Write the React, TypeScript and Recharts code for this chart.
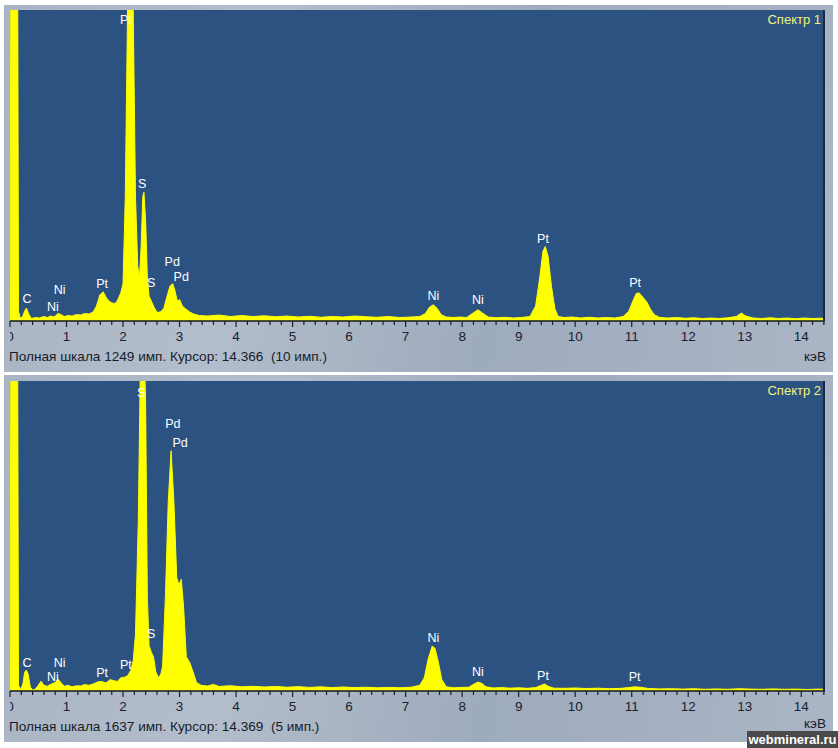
import React from "react";
import { AreaChart, Area, XAxis, YAxis, CartesianGrid, ReferenceDot } from "recharts";

// ---------- Spectrum 1 (full scale 1249 counts) ----------
const energy1 = [
  0.0, 0.02, 0.13, 0.15, 0.18, 0.22, 0.26, 0.29, 0.33, 0.38, 0.45, 0.52, 0.6, 0.66, 0.72, 0.78, 0.85, 0.9, 0.96,
  1.02, 1.1, 1.18, 1.25, 1.32, 1.4, 1.47, 1.53, 1.59, 1.65, 1.7, 1.75, 1.8, 1.85, 1.89, 1.96, 2.0, 2.04, 2.08,
  2.13, 2.18, 2.22, 2.26, 2.29, 2.32, 2.35, 2.37, 2.4, 2.43, 2.46, 2.5, 2.55, 2.6, 2.66, 2.72, 2.78, 2.83, 2.88,
  2.92, 2.96, 3.0, 3.05, 3.1, 3.18, 3.25, 3.35, 3.5, 3.7, 3.9, 4.1, 4.3, 4.5, 4.7, 4.9, 5.1, 5.3, 5.5, 5.7, 5.9,
  6.1, 6.3, 6.5, 6.7, 6.9, 7.1, 7.25, 7.35, 7.42, 7.49, 7.56, 7.63, 7.72, 7.85, 7.95, 8.08, 8.18, 8.28, 8.36,
  8.46, 8.6, 8.75, 8.9, 9.05, 9.2, 9.3, 9.37, 9.43, 9.47, 9.52, 9.58, 9.64, 9.7, 9.8, 9.95, 10.1, 10.25, 10.4,
  10.55, 10.7, 10.85, 10.95, 11.02, 11.08, 11.13, 11.2, 11.27, 11.33, 11.4, 11.5, 11.65, 11.8, 11.95, 12.1,
  12.25, 12.4, 12.55, 12.7, 12.85, 12.94, 13.02, 13.15, 13.3, 13.45, 13.6, 13.75, 13.9, 14.05, 14.2, 14.35, 14.42,
];
const counts1 = [
  0, 2000, 2000, 40, 12, 16, 40, 52, 28, 10, 14, 12, 18, 14, 20, 16, 30, 26, 18,
  22, 20, 26, 24, 30, 28, 36, 60, 105, 117, 95, 80, 73, 70, 77, 113, 150, 500, 1250,
  2000, 1250, 500, 220, 170, 300, 500, 517, 400, 180, 100, 80, 55, 35, 36, 50, 100, 140, 150,
  120, 80, 86, 60, 50, 36, 28, 22, 20, 24, 18, 22, 18, 21, 17, 20, 16, 19, 15, 18, 16,
  20, 17, 15, 18, 14, 16, 18, 30, 55, 65, 50, 25, 16, 14, 16, 14, 30, 45, 32,
  16, 13, 15, 12, 14, 18, 60, 170, 280, 299, 260, 140, 50, 18, 14, 16, 12, 15, 12,
  14, 12, 18, 40, 80, 110, 113, 95, 75, 48, 25, 14, 12, 14, 11, 13,
  10, 12, 10, 13, 18, 32, 20, 12, 10, 13, 10, 12, 9, 12, 10, 11, 10,
];
const labelText1 = ["Pt", "S", "S", "Pd", "Pd", "Pt", "Ni", "Ni", "C", "Ni", "Ni", "Pt", "Pt"];
const labelEnergy1 = [2.05, 2.34, 2.5, 2.87, 3.03, 1.63, 0.88, 0.76, 0.3, 7.49, 8.28, 9.43, 11.06];
const labelCount1 = [1209, 550, 154, 239, 178, 150, 125, 57, 89, 101, 85, 331, 154];

// ---------- Spectrum 2 (full scale 1637 counts) ----------
const energy2 = [
  0.0, 0.02, 0.13, 0.15, 0.19, 0.23, 0.26, 0.29, 0.32, 0.36, 0.4, 0.45, 0.5, 0.55, 0.6, 0.66, 0.72, 0.8, 0.85,
  0.9, 0.96, 1.02, 1.1, 1.18, 1.25, 1.32, 1.4, 1.48, 1.55, 1.62, 1.7, 1.77, 1.83, 1.9, 1.96, 2.02, 2.08, 2.14,
  2.18, 2.22, 2.27, 2.31, 2.35, 2.4, 2.43, 2.46, 2.5, 2.54, 2.58, 2.63, 2.67, 2.7, 2.75, 2.8, 2.85, 2.9, 2.95,
  2.99, 3.03, 3.07, 3.12, 3.18, 3.24, 3.3, 3.38, 3.5, 3.6, 3.7, 3.9, 4.1, 4.3, 4.5, 4.7, 4.9, 5.1, 5.3, 5.5,
  5.7, 5.9, 6.1, 6.3, 6.5, 6.7, 6.9, 7.1, 7.25, 7.33, 7.4, 7.47, 7.52, 7.58, 7.64, 7.72, 7.85, 8.0, 8.12, 8.2,
  8.28, 8.35, 8.42, 8.55, 8.7, 8.85, 9.0, 9.15, 9.3, 9.4, 9.46, 9.52, 9.62, 9.8, 10.0, 10.2, 10.4, 10.6, 10.8,
  10.95, 11.05, 11.15, 11.3, 11.5, 11.7, 11.9, 12.1, 12.3, 12.5, 12.7, 12.9, 13.1, 13.3, 13.5, 13.7, 13.9,
  14.1, 14.3, 14.42,
];
const counts2 = [
  0, 2500, 2500, 30, 8, 40, 100, 110, 90, 20, 5, 10, 30, 52, 30, 25, 35, 45, 63,
  45, 25, 30, 22, 28, 26, 34, 30, 38, 48, 50, 42, 60, 55, 50, 70, 72, 80, 110,
  160, 300, 900, 1800, 2200, 1500, 500, 240, 205, 180, 100, 70, 90, 130, 500, 1000, 1268, 1000, 600,
  560, 590, 450, 180, 150, 100, 45, 30, 26, 35, 24, 28, 22, 25, 21, 24, 20, 23, 19, 22,
  18, 21, 18, 20, 17, 19, 17, 20, 30, 70, 170, 237, 225, 150, 60, 22, 17, 19, 20, 35,
  47, 40, 22, 16, 18, 15, 17, 14, 18, 30, 37, 25, 15, 14, 16, 13, 15, 12, 14,
  18, 22, 20, 13, 11, 12, 10, 12, 9, 11, 9, 12, 10, 9, 11, 9, 10,
  8, 10, 9,
];
const labelText2 = ["S", "Pd", "Pd", "S", "C", "Ni", "Ni", "Pt", "Pt", "Ni", "Ni", "Pt", "Pt"];
const labelEnergy2 = [2.32, 2.88, 3.01, 2.5, 0.3, 0.88, 0.76, 1.63, 2.05, 7.49, 8.28, 9.43, 11.05];
const labelCount2 = [1578, 1410, 1310, 305, 152, 152, 74, 100, 137, 284, 105, 84, 74];

// ---------- Axis ticks (keV) ----------
const majorTicks = [0, 1, 2, 3, 4, 5, 6, 7, 8, 9, 10, 11, 12, 13, 14];
const minorSteps = [0.2, 0.4, 0.6, 0.8];

const spectra = [
  { name: "Спектр 1", fullScale: 1249, energy: energy1, counts: counts1, lt: labelText1, le: labelEnergy1, lc: labelCount1, footer: "Полная шкала 1249 имп. Курсор: 14.366  (10 имп.)" },
  { name: "Спектр 2", fullScale: 1637, energy: energy2, counts: counts2, lt: labelText2, le: labelEnergy2, lc: labelCount2, footer: "Полная шкала 1637 имп. Курсор: 14.369  (5 имп.)" },
];

const X_MAX = 14.42;
const FONT = "'Liberation Sans', Arial, sans-serif";
const allTicks: number[] = [];
majorTicks.forEach((m) => {
  allTicks.push(m);
  minorSteps.forEach((s) => {
    if (m + s <= X_MAX) allTicks.push(Math.round((m + s) * 10) / 10);
  });
});

const Tick = (props: any) => {
  const { x, y, payload, clipId } = props;
  const v = payload.value as number;
  const major = Math.abs(v - Math.round(v)) < 1e-6;
  return (
    <g>
      <line x1={x} y1={y} x2={x} y2={y + (major ? 6 : 4)} stroke="#1b1f2b" strokeWidth={1.2} />
      {major && (
        <text x={x} y={y + 20} textAnchor="middle" fontSize={13.5} fill="#1b2030" fontFamily={FONT}
          clipPath={v === 0 ? `url(#${clipId})` : undefined}>
          {String(v)}
        </text>
      )}
    </g>
  );
};

const Panel = ({ s, top, idx }: { s: any; top: number; idx: number }) => {
  const data = s.energy.map((e: number, i: number) => ({ e, c: s.counts[i] }));
  const clipId = `zeroClip${idx}`;
  const marginTop = idx === 0 ? 10 : 11;
  return (
    <div style={{ position: "absolute", left: 0, top, width: 838, height: 372 }}>
      <div style={{ position: "absolute", left: 4, top: 5, width: 829, height: 367,
        background: "linear-gradient(100deg, #a9b4c4 0%, #b3bdcb 30%, #9eabbd 60%, #aab5c5 100%)" }} />
      <div style={{ position: "absolute", left: 0, top: 0 }}>
        <AreaChart width={838} height={350} data={data} margin={{ top: marginTop, left: 10, right: 13, bottom: 0 }}>
          <defs>
            <clipPath id={clipId}>
              <rect x={10} y={0} width={40} height={400} />
            </clipPath>
          </defs>
          <CartesianGrid horizontal={false} vertical={false} fill="#2c5282" stroke="none" />
          <XAxis dataKey="e" type="number" domain={[0, X_MAX]} ticks={allTicks} interval={0}
            allowDataOverflow height={29} tickSize={0} tickMargin={0} tickLine={false}
            axisLine={{ stroke: "#111827", strokeWidth: 1.5 }}
            tick={(p: any) => <Tick {...p} clipId={clipId} />} />
          <YAxis hide domain={[0, s.fullScale]} allowDataOverflow type="number" />
          <Area dataKey="c" type="linear" stroke="#ffff00" strokeWidth={1} fill="#ffff00" fillOpacity={1} isAnimationActive={false} />
          {s.lt.map((t: string, i: number) => (
            <ReferenceDot key={i} x={s.le[i]} y={s.lc[i]} r={0} fill="none" stroke="none" ifOverflow="visible"
              label={{ value: t, position: "center", fill: "#ffffff", fontSize: 12.5, fontFamily: FONT }} />
          ))}
        </AreaChart>
      </div>
      <div style={{ position: "absolute", right: 838 - 825, top: marginTop, width: 2, height: 311, background: "#1c2a3d" }} />
      <div style={{ position: "absolute", right: 17, top: marginTop + 2, color: "#f2f27a", fontSize: 13, fontFamily: FONT }}>
        {s.name}
      </div>
      <div style={{ position: "absolute", left: 9, top: 349, fontSize: 13.6, color: "#161c2a", fontFamily: FONT, whiteSpace: "pre" }}>
        {s.footer}
      </div>
      <div style={{ position: "absolute", right: 838 - 826, top: idx === 0 ? 349 : 346, fontSize: 13.5, color: "#161c2a", fontFamily: FONT }}>
        кэВ
      </div>
    </div>
  );
};

export default function App() {
  return (
    <div style={{ position: "absolute", left: 0, top: 0, width: 838, height: 748, background: "#ffffff", overflow: "hidden" }}>
      <Panel s={spectra[0]} top={0} idx={0} />
      <Panel s={spectra[1]} top={370} idx={1} />
      <div style={{ position: "absolute", right: 0, bottom: 0, width: 91, height: 17, background: "#4a4a4a",
        color: "#ffffff", fontFamily: FONT, fontWeight: "bold", fontSize: 13, display: "flex", alignItems: "center", justifyContent: "center" }}>
        webmineral.ru
      </div>
    </div>
  );
}
